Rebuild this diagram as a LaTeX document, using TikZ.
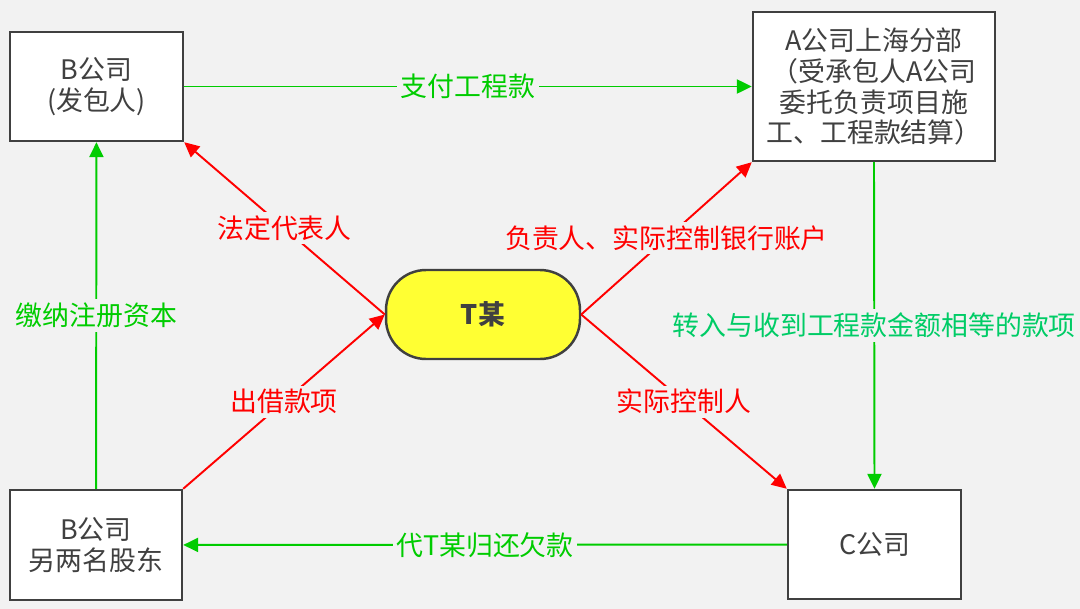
\documentclass[tikz,border=0pt]{standalone}
\usepackage{fontspec}
\setmainfont{Noto Sans CJK SC}
\usetikzlibrary{arrows.meta}
\definecolor{bggray}{HTML}{F2F2F2}
\definecolor{boxline}{HTML}{404040}
\definecolor{flowgreen}{HTML}{00CC00}
\definecolor{mintgreen}{HTML}{00CC66}
\definecolor{tred}{HTML}{FF0000}
\definecolor{tyellow}{HTML}{FFFF33}
\newcommand{\diagfont}{\fontsize{15.3pt}{17.6pt}\selectfont}

\begin{document}
\begin{tikzpicture}[x=0.02cm, y=-0.02cm,
    every node/.style={font=\diagfont},
    party/.style={draw=boxline, line width=1.4pt, fill=white, text=boxline, align=center, inner sep=0pt},
    money/.style={-{Triangle[length=8.5pt,width=8pt]}, flowgreen, line width=1.1pt},
    control/.style={-{Triangle[length=8.5pt,width=8pt]}, tred, line width=1.1pt},
    tag/.style={fill=bggray, inner sep=2pt}]

    % Background
    \fill[bggray] (0,0) rectangle (1080,609);

    % Parties
    \node[party, minimum width=3.46cm, minimum height=2.18cm] (bco) at (96.5,86.5) {B公司\\(发包人)};
    \node[party, minimum width=4.84cm, minimum height=2.98cm] (aco) at (874,86.5)
        {A公司上海分部\\（受承包人A公司\\委托负责项目施\\工、工程款结算）};
    \node[party, minimum width=3.44cm, minimum height=2.2cm] (bsh) at (96,545) {B公司\\另两名股东};
    \node[party, minimum width=3.46cm, minimum height=2.18cm] (cco) at (874.5,544.5) {C公司};

    % T mou
    \node[draw=boxline, line width=1.4pt, fill=tyellow, text=boxline, rounded corners=0.8cm,
        minimum width=3.88cm, minimum height=1.78cm, font=\diagfont\bfseries] (tmou) at (483,314.5) {T某};

    % Money flows
    \draw[money] (bco) -- node[tag] {支付工程款} (aco);
    \draw[money] (aco.south) -- node[tag, text=mintgreen] {转入与收到工程款金额相等的款项} (cco.north);
    \draw[money] (cco) -- node[tag] {代T某归还欠款} (bsh);
    \draw[money] (bsh) -- node[tag] {缴纳注册资本} (bco);

    % Control relations
    \draw[control] (tmou.west) -- node[tag] {法定代表人} (bco.south east);
    \draw[control] (bsh.north east) -- node[tag] {出借款项} (tmou.west);
    \draw[control] (tmou.east) -- node[tag] {负责人、实际控制银行账户} (aco.south west);
    \draw[control] (tmou.east) -- node[tag] {实际控制人} (cco.north west);
\end{tikzpicture}
\end{document}
